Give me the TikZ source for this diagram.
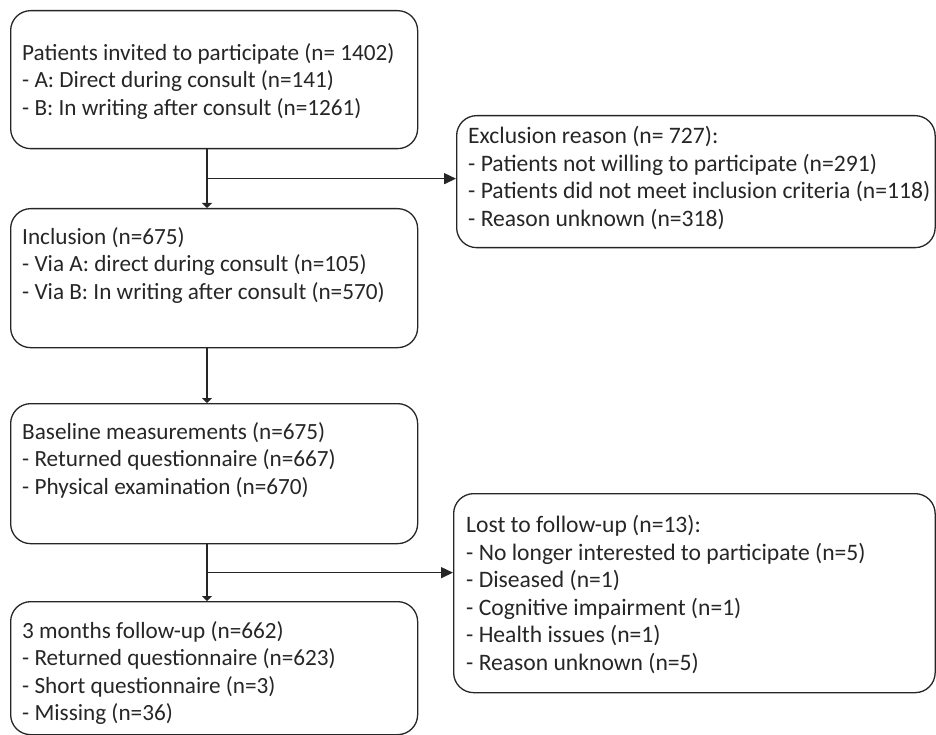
\documentclass[tikz,border=0pt]{standalone}
\usepackage{fontspec}
\setmainfont{Carlito}
\usetikzlibrary{arrows.meta,calc}

\begin{document}
\begin{tikzpicture}[x=1pt, y=-1pt, >={Triangle[length=12pt,width=11pt]}]

        \def\boxw{407}              % width of the boxes on the left
        \def\stemx{207}             % x of the vertical flow line
        \tikzstyle{box}=[draw=black!85,line width=1.3pt,rounded corners=20pt,anchor=north west,inner sep=0pt]
        \tikzstyle{txt}=[align=left,anchor=north west,inner sep=0pt,text=black!85,font={\fontsize{23.2pt}{27.6pt}\selectfont}]
        \tikzstyle{txtr}=[txt,font={\fontsize{23.6pt}{27.6pt}\selectfont}]
        \tikzstyle{flow}=[draw=black!85,line width=1.5pt]
        \tikzset{down/.style={flow,-{Triangle[length=5pt,width=10pt]}}}
        \tikzset{side/.style={flow,->}}

        \useasboundingbox (0,0) rectangle (936,735);

        % Draw the boxes of the main flow
        \node[box,minimum width=\boxw pt,minimum height=138pt] (Inv) at (10,10) {};
        \node[box,minimum width=\boxw pt,minimum height=139pt] (Inc) at (10,208) {};
        \node[box,minimum width=\boxw pt,minimum height=140pt] (Bas) at (10,403) {};
        \node[box,minimum width=\boxw pt,minimum height=133pt] (Fup) at (10,601) {};

        % Draw the boxes on the right
        \node[box,minimum width=478.5pt,minimum height=132pt] (Exc) at (456,115) {};
        \node[box,minimum width=481.5pt,minimum height=199pt] (Los) at (453,493) {};

        % Texts of the boxes
        \node[txt] (Inv-t) at (22,43) {Patients invited to participate (n= 1402)\\- A: Direct during consult (n=141)\\- B: In writing after consult (n=1261)};
        \node[txt] (Inc-t) at (22,227) {Inclusion (n=675)\\- Via A: direct during consult (n=105)\\- Via B: In writing after consult (n=570)};
        \node[txt] (Bas-t) at (22,422) {Baseline measurements (n=675)\\- Returned questionnaire (n=667)\\- Physical examination (n=670)};
        \node[txt] (Fup-t) at (22,621) {3 months follow-up (n=662)\\- Returned questionnaire (n=623)\\- Short questionnaire (n=3)\\- Missing (n=36)};
        \node[txtr] (Exc-t) at (468,126) {Exclusion reason (n= 727):\\- Patients not willing to participate (n=291)\\- Patients did not meet inclusion criteria (n=118)\\- Reason unknown (n=318)};
        \node[txtr] (Los-t) at (466,515) {Lost to follow-up (n=13):\\- No longer interested to participate (n=5)\\- Diseased (n=1)\\- Cognitive impairment (n=1)\\- Health issues (n=1)\\- Reason unknown (n=5)};

        % Connect the boxes
        \coordinate (stem) at (\stemx,0);
        \draw[down] (stem |- Inv.south) -- (stem |- Inc.north);
        \draw[down] (stem |- Inc.south) -- (stem |- Bas.north);
        \draw[down] (stem |- Bas.south) -- (stem |- Fup.north);

        \coordinate (split-1) at ($(stem |- Inv.south)!.5!(stem |- Inc.north)$);
        \coordinate (split-2) at ($(stem |- Bas.south)!.5!(stem |- Fup.north)$);
        \draw[side] (split-1) -- (split-1 -| Exc.west);
        \draw[side] (split-2) -- (split-2 -| Los.west);

\end{tikzpicture}
\end{document}
